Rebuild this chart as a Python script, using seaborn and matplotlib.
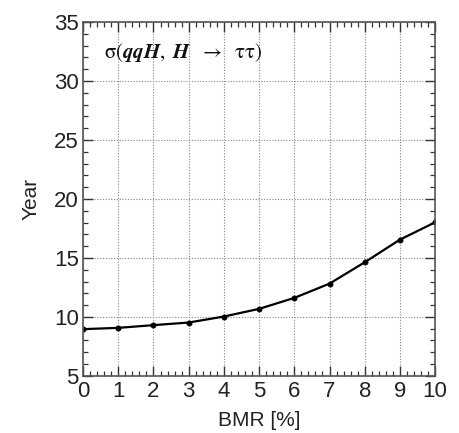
import matplotlib
matplotlib.use("Agg")
import matplotlib.pyplot as plt
import seaborn as sns
import pandas as pd
from matplotlib.ticker import MultipleLocator

bmr = [0, 1, 2, 3, 4, 5, 6, 7, 8, 9, 10]
years = [8.96, 9.07, 9.3, 9.52, 10.03, 10.68, 11.61, 12.82, 14.63, 16.55, 18.02]
x_ticks = [0, 1, 2, 3, 4, 5, 6, 7, 8, 9, 10]
y_ticks = [5, 10, 15, 20, 25, 30, 35]

sns.set_theme(style="ticks")
plt.rcParams['font.family'] = ['Liberation Sans', 'DejaVu Sans']
plt.rcParams['mathtext.fontset'] = 'stix'

df = pd.DataFrame({"BMR": bmr, "Year": years})

fig = plt.figure(figsize=(4.59, 4.33), dpi=100)
ax = fig.add_axes([0.181, 0.132, 0.767, 0.817])

sns.lineplot(data=df, x="BMR", y="Year", ax=ax, color="black", linewidth=1.6,
             marker="o", markersize=3.5, markeredgecolor="black")

ax.set_xlim(0, 10)
ax.set_ylim(5, 35)
ax.set_xticks(x_ticks)
ax.set_yticks(y_ticks)
ax.xaxis.set_minor_locator(MultipleLocator(0.2))
ax.yaxis.set_minor_locator(MultipleLocator(1))
ax.grid(True, which="major", color="#888888", linestyle=(0, (1, 1.5)), linewidth=0.8)
ax.tick_params(which="both", direction="in", top=True, right=True, colors="#333333",
               labelcolor="#222222", labelsize=16)
ax.tick_params(which="major", length=7, width=1)
ax.tick_params(axis="x", which="major", pad=4)
ax.tick_params(axis="y", which="major", pad=3)
ax.tick_params(which="minor", length=3.6, width=0.9)
for s in ax.spines.values():
    s.set_color("#555555")
    s.set_linewidth(1.2)
ax.set_xlabel("BMR [%]", fontsize=15, color="#222222", labelpad=6)
ax.set_ylabel("Year", fontsize=15, color="#222222", labelpad=10)

ax.text(0.06, 0.915, r"$\mathrm{\sigma(}\mathbfit{qqH},\ \mathbfit{H}\ \ \rightarrow\ \ \mathrm{\tau\tau)}$",
        transform=ax.transAxes, fontsize=15, color="#111111", va="center", ha="left")

fig.savefig("out.png", dpi=100)
